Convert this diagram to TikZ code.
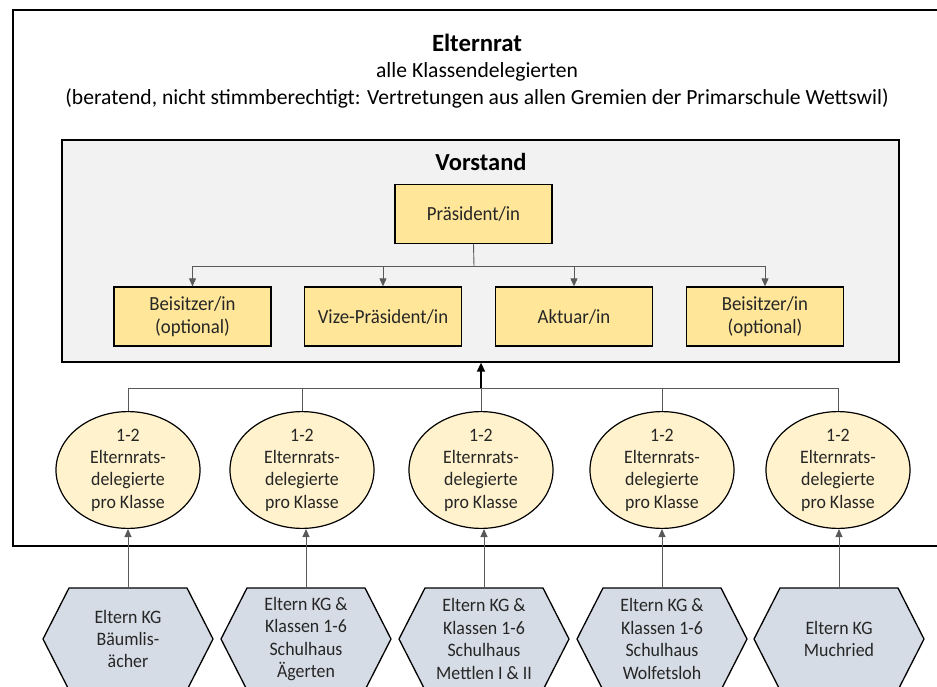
\documentclass[tikz,border=0pt]{standalone}
\usepackage{fontspec}
\setmainfont{Carlito}
\newfontfamily\schmal[FakeStretch=0.94]{Carlito}
\usetikzlibrary{arrows.meta,shapes.geometric}

\definecolor{amtgold}{HTML}{FFE699}
\definecolor{delegelb}{HTML}{FFF2CC}
\definecolor{elternblau}{HTML}{D6DCE5}
\definecolor{vorstandgrau}{HTML}{F2F2F2}
\definecolor{liniengrau}{HTML}{595959}
\definecolor{textdunkel}{HTML}{262626}

\tikzset{
    amt/.style={draw=black, line width=1.3pt, fill=amtgold, minimum width=157pt, minimum height=59pt,
        inner sep=0pt, align=center, text=textdunkel, font=\schmal\fontsize{20}{22.5}\selectfont},
    delegiert/.style={ellipse, draw=black, line width=1.2pt, fill=delegelb, minimum width=144pt,
        minimum height=114pt, inner sep=0pt, align=center, text=textdunkel, font=\schmal\fontsize{19}{22.4}\selectfont},
    eltern/.style={minimum width=170pt, minimum height=102pt, inner sep=0pt, align=center,
        text=textdunkel, font=\schmal\fontsize{19}{22.4}\selectfont},
    hexa/.style={draw=black, line width=1.3pt, fill=elternblau},
    verb/.style={draw=liniengrau, line width=0.9pt},
    pfeil/.style={verb, -{Triangle[length=8pt,width=7pt]}},
}

\begin{document}
\begin{tikzpicture}[x=1pt, y=-1pt]
    \useasboundingbox (0,0) rectangle (937,687);
    \clip (0,0) rectangle (937,687);

    %% Elternrat
    % Outer frame
    \draw[line width=1.8pt] (13,10) rectangle (960,546);
    \node[font=\bfseries\fontsize{24.8}{29}\selectfont] (titel) at (477,43) {Elternrat};
    \node[font=\fontsize{21.6}{26}\selectfont] (klassen) at (477,72) {alle Klassendelegierten};
    \node[font=\fontsize{21.6}{26}\selectfont] (beratend) at (477,98)
        {(beratend, nicht stimmberechtigt: Vertretungen aus allen Gremien der Primarschule Wettswil)};

    %% Vorstand
    \node[draw=black, line width=1.3pt, fill=vorstandgrau, minimum width=837pt, minimum height=222pt]
        (vorstand) at (480.5,251) {};
    \node[font=\bfseries\fontsize{24.5}{29}\selectfont] (vorstandtitel) at (481,162) {Vorstand};

    % Praesident and the other posts
    \node[amt] (praes) at (473.5,214) {Präsident/in};
    \node[amt] (beis1) at (192.5,316.5) {Beisitzer/in\\(optional)};
    \node[amt] (vize) at (383,316.5) {Vize-Präsident/in};
    \node[amt] (aktuar) at (574,316.5) {Aktuar/in};
    \node[amt] (beis2) at (765,316.5) {Beisitzer/in\\(optional)};

    \coordinate (vbus) at (474,266);
    \draw[verb] (praes.south) -- (vbus);
    \draw[pfeil] (vbus) -| (beis1.north);
    \draw[pfeil] (vbus) -| (vize.north);
    \draw[pfeil] (vbus) -| (aktuar.north);
    \draw[pfeil] (vbus) -| (beis2.north);

    %% Elternratsdelegierte
    \foreach \x/\n in {128/1, 302/2, 481/3, 662/4, 838/5} {
        \node[delegiert] (e\n) at (\x,470) {1-2\\Elternrats-\\delegierte\\pro Klasse};
    }

    \coordinate (ebus) at (481,388);
    \draw[verb] (e1.north) |- (ebus) -| (e5.north);
    \draw[verb] (e2.north) |- (ebus);
    \draw[verb] (e4.north) |- (ebus);
    \draw[verb] (e3.north) -- (ebus);
    \draw[line width=1.6pt, -{Triangle[length=9pt,width=8pt]}] (ebus) -- (ebus |- vorstand.south);

    %% Eltern of the Schulhaeuser
    \foreach \x/\n/\txt in {128/1/{Eltern KG\\Bäumlis-\\ächer},
            306/2/{Eltern KG \&\\Klassen 1-6\\Schulhaus\\Ägerten},
            484/3/{Eltern KG \&\\Klassen 1-6\\Schulhaus\\Mettlen I \& II},
            662/4/{Eltern KG \&\\Klassen 1-6\\Schulhaus\\Wolfetsloh},
            839/5/{Eltern KG\\Muchried}} {
        \draw[hexa] (\x-85,639) -- (\x-59,588) -- (\x+59,588) -- (\x+85,639) -- (\x+59,690) -- (\x-59,690) -- cycle;
        \node[eltern] (h\n) at (\x,639) {\txt};
    }

    \foreach \n in {1,...,5} {
        \draw[pfeil] (h\n.north) -- (h\n.north |- e\n.south);
    }

\end{tikzpicture}
\end{document}
